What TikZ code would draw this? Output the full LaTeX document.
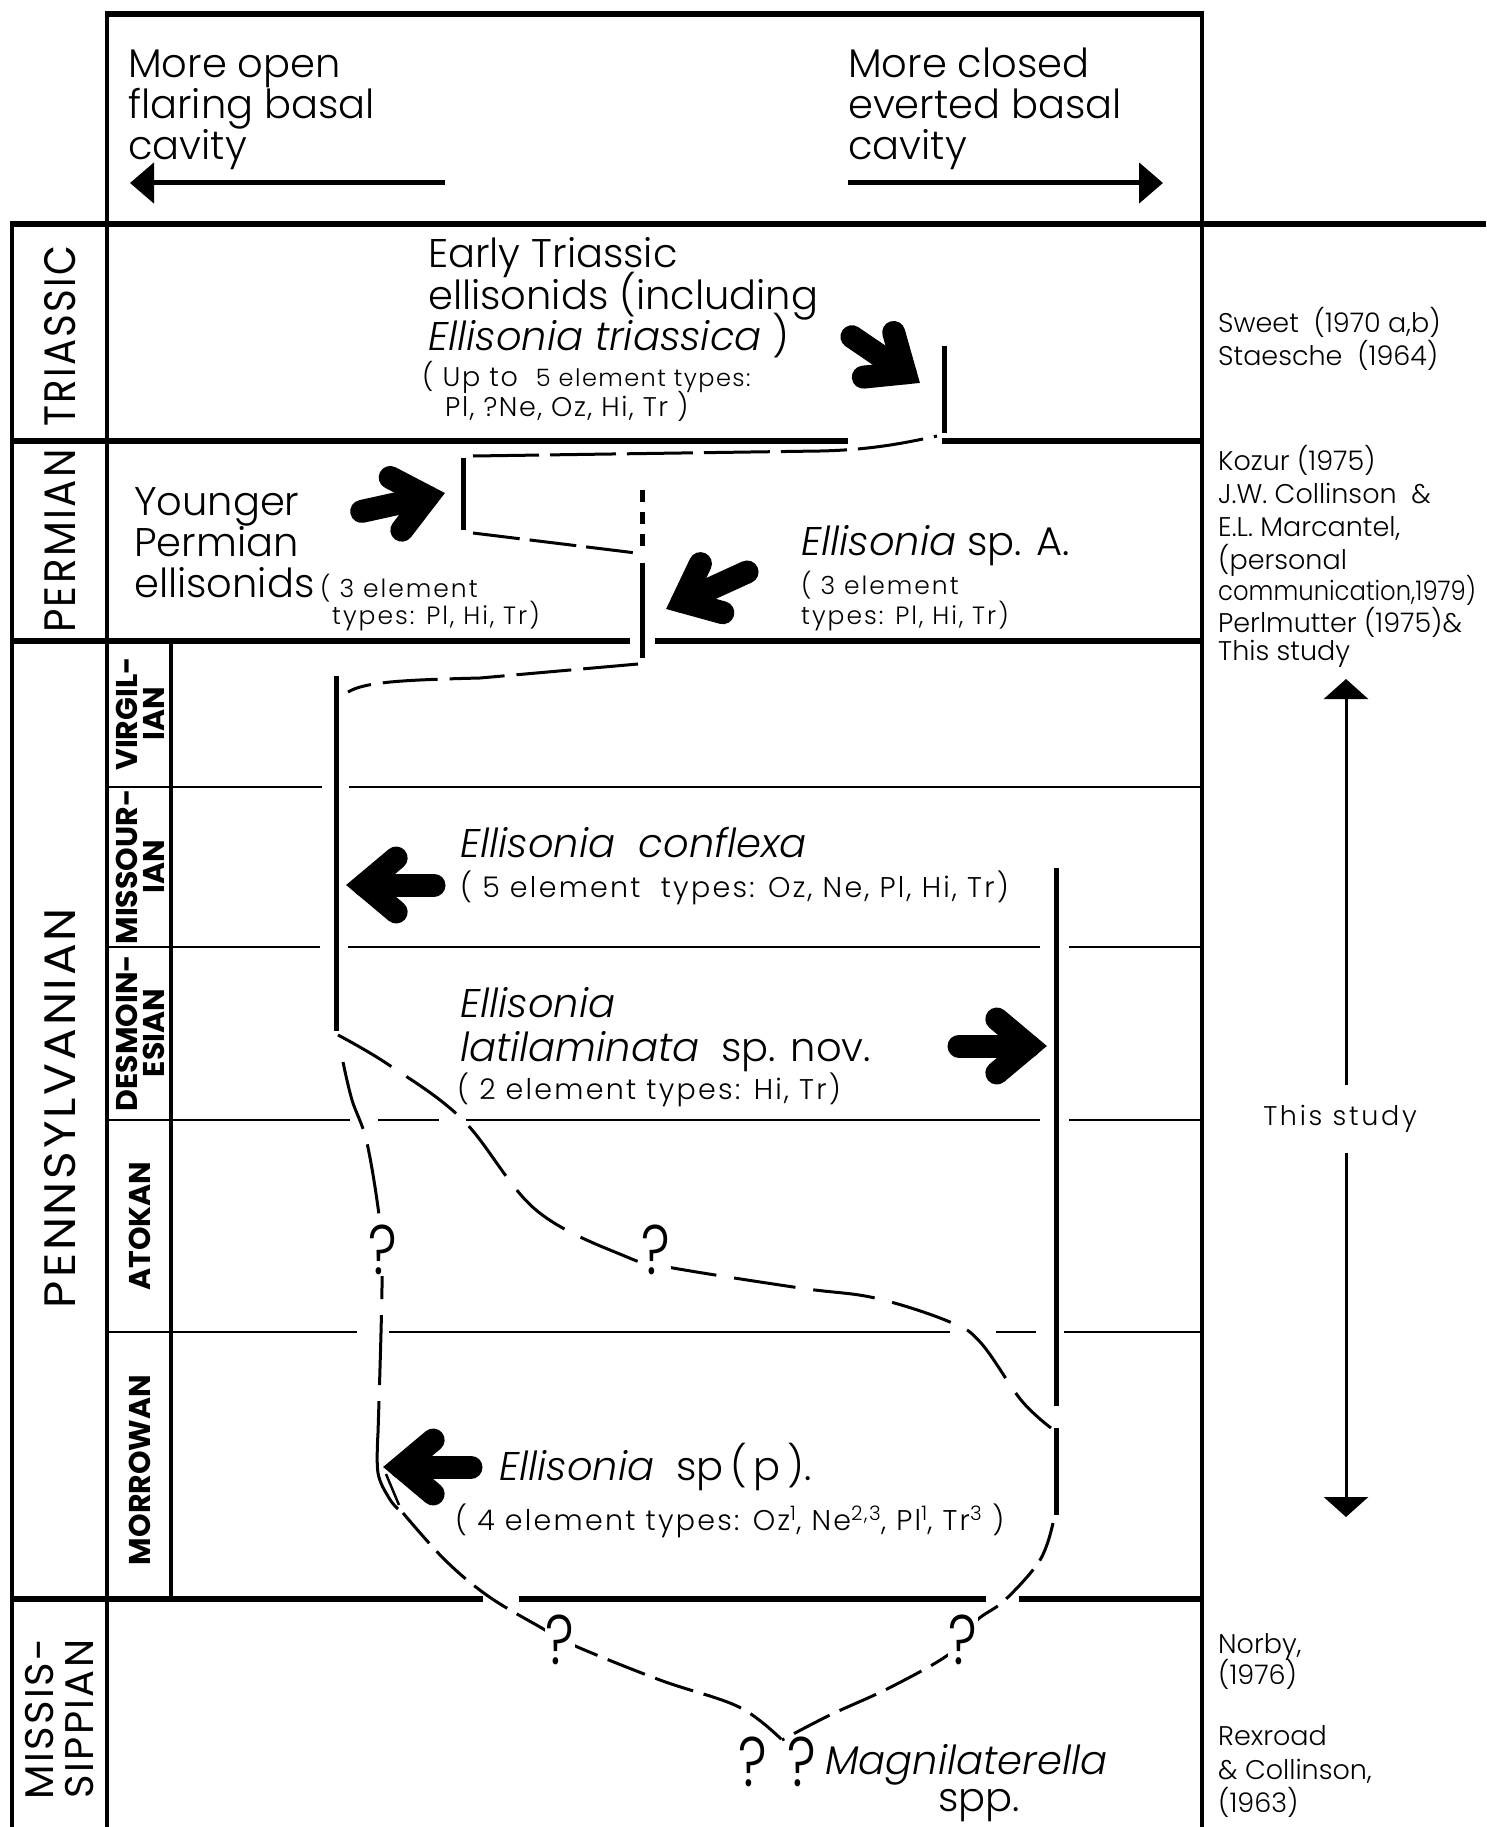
\documentclass[tikz,border=0pt]{standalone}
\usepackage{fontspec}
\setmainfont{Poppins}[UprightFont=* Light, ItalicFont=* Light Italic, BoldFont=* Bold]
\newfontfamily\regfont{Poppins}
\usetikzlibrary{calc,arrows.meta}
\newcommand\fatarrow[2]{%
  \coordinate (fa-v) at ($(#2)!18pt!(#1)$);
  \coordinate (fa-t) at ($(#1)!12pt!(#2)$);
  \draw[line width=23pt, line cap=round, line join=miter, miter limit=10]
    ($(fa-v)!42pt!40:(#1)$) -- (fa-v) -- ($(fa-v)!42pt!-40:(#1)$);
  \draw[line width=23pt, line cap=round] (fa-v) -- (fa-t);
}
\begin{document}
\begin{tikzpicture}[x=1pt,y=-1pt,
  frame/.style={line width=4pt},
  thickb/.style={line width=6pt},
  thinb/.style={line width=2.6pt},
  rangebar/.style={line width=5pt},
  lineage/.style={line width=3pt, dash pattern=on 60pt off 12pt},
  shortdash/.style={line width=3pt, dash pattern=on 40pt off 11pt},
  txt/.style={anchor=base west, inner sep=0pt},
  big/.style={font=\fontsize{40pt}{41pt}\selectfont},
  mid/.style={font=\fontsize{27pt}{30pt}\selectfont\addfontfeatures{LetterSpace=6}},
  small/.style={font=\fontsize{25pt}{30pt}\selectfont\addfontfeatures{LetterSpace=8}},
  smallb/.style={font=\fontsize{28.5pt}{30pt}\selectfont\addfontfeatures{LetterSpace=8}},
  refs/.style={font=\fontsize{27pt}{33pt}\selectfont},
  period/.style={font=\regfont\fontsize{44pt}{44pt}\selectfont\addfontfeatures{LetterSpace=6}, rotate=90, inner sep=0pt},
  stage/.style={font=\bfseries\fontsize{30pt}{27pt}\selectfont, rotate=90, align=center, inner sep=0pt},
  qm/.style={font=\fontsize{70pt}{70pt}\selectfont, fill=white, inner sep=1pt},
  qmb/.style={font=\fontsize{70pt}{70pt}\selectfont, inner sep=1pt}
]
\useasboundingbox (0,0) rectangle (1486,1827);
\fill[white] (0,0) rectangle (1486,1827);

% ---------- frame ----------
\draw[frame] (107,14) -- (107,1827);
\draw[frame] (1202,14) -- (1202,1827);
\draw[frame] (12,224) -- (12,1827);
\draw[frame] (171,641) -- (171,1599);
\draw[thickb] (105,14) -- (1204,14);
\draw[thickb] (10,224) -- (1486,224);
% Triassic / Permian
\draw[thickb] (10,441) -- (848,441);
\draw[thickb] (942,441) -- (1204,441);
% Permian / Pennsylvanian
\draw[thickb] (10,641) -- (630,641);
\draw[thickb] (655,641) -- (1204,641);
% stages
\draw[thinb] (107,787) -- (322,787);  \draw[thinb] (349,787) -- (1202,787);
\draw[thinb] (107,947) -- (320,947);  \draw[thinb] (348,947) -- (1040,947);  \draw[thinb] (1069,947) -- (1202,947);
\draw[thinb] (107,1120) -- (350,1120); \draw[thinb] (378,1120) -- (439,1120); \draw[thinb] (466,1120) -- (1040,1120); \draw[thinb] (1069,1120) -- (1202,1120);
\draw[thinb] (107,1332) -- (357,1332); \draw[thinb] (389,1332) -- (950,1332); \draw[thinb] (996,1332) -- (1036,1332); \draw[thinb] (1064,1332) -- (1202,1332);
% Pennsylvanian / Mississippian
\draw[thickb] (10,1599) -- (483,1599);
\draw[thickb] (519,1599) -- (986,1599);
\draw[thickb] (1019,1599) -- (1204,1599);

% ---------- range bars ----------
\coordinate (triTop) at (944,346);
\coordinate (triBot) at (944,433);
\coordinate (ypTop) at (463,458);
\coordinate (ypBot) at (463,530);
\coordinate (spaDotTop) at (642,490);
\coordinate (spaDotBot) at (642,552);
\coordinate (spaTop) at (642,563);
\coordinate (spaBot) at (642,658);
\coordinate (cfTop) at (336,676);
\coordinate (cfBot) at (336,1031);
\coordinate (llTop) at (1056,868);
\coordinate (llBot) at (1056,1406);
\coordinate (sppTop) at (1056,1428);
\coordinate (sppBot) at (1056,1515);
\coordinate (root) at (782,1740);

\draw[rangebar] (triTop) -- (triBot);
\draw[rangebar] (ypTop) -- (ypBot);
\draw[line width=5pt, dash pattern=on 12pt off 10pt] (spaDotTop) -- (spaDotBot);
\draw[rangebar] (spaTop) -- (spaBot);
\draw[rangebar] (cfTop) -- (cfBot);
\draw[rangebar] (llTop) -- (llBot);
\draw[rangebar] (sppTop) -- (sppBot);

% ---------- lineage curves ----------
\draw[lineage, dash pattern=on 66pt off 11pt] ($(ypTop)+(10,-2)$) -- (820,451) .. controls (870,450) and (905,443) .. ($(triBot)+(-7,3)$);
\draw[lineage, dash pattern=on 47pt off 10pt] ($(ypBot)+(10,3)$) -- ($(spaDotBot)+(-6,1)$);
\draw[lineage, dash pattern=on 55pt off 12pt] ($(spaBot)+(-4,6)$) -- (480,678) .. controls (400,680) and (365,682) .. ($(cfTop)+(12,16)$);
\draw[lineage, dash pattern=on 62pt off 18pt] plot[smooth, tension=0.6] coordinates
  {($(cfBot)+(2,4)$) (389,1065) (463,1120) (536,1210) (627,1257) (673,1268) (800,1288) (875,1298) (950,1322) (981,1343) (1021,1400) ($(sppTop)+(-5,0)$)};
\draw[lineage, dash pattern=on 70pt off 16pt] plot[smooth, tension=0.6] coordinates
  {(343,1062) (352,1100) (367,1143) (380,1223) (382,1273) (381,1333) (378,1433)};
\draw[line width=3pt] plot[smooth, tension=0.6] coordinates {(378,1433) (378,1473) (389,1498) (398,1509)};
\draw[line width=2.5pt] (386,1474) -- (399,1505);
\draw[shortdash] plot[smooth, tension=0.6] coordinates
  {(403,1513) (445,1560) (488,1596) (540,1627) (573,1645) (660,1680) (739,1707) (root)};
\draw[shortdash] plot[smooth, tension=0.6] coordinates
  {($(sppBot)+(-3,8)$) (1040,1560) (1005,1600) (976,1621) (952,1652) (891,1687) (830,1715) (root)};

% question marks
\node[qm] (q1) at (383,1250) {\scalebox{0.8}[1]{?}};
\node[qm] (q2) at (656,1250) {\scalebox{0.8}[1]{?}};
\node[qm] (q3) at (560,1640) {\scalebox{0.8}[1]{?}};
\node[qm] (q4) at (963,1640) {\scalebox{0.8}[1]{?}};
\node[qmb] (q5) at (753,1762) {\scalebox{0.8}[1]{?}};
\node[qmb] (q6) at (802,1762) {\scalebox{0.8}[1]{?}};

% ---------- fat arrows ----------
\coordinate (a1t) at (842,330); \coordinate (a1h) at (920,383);
\coordinate (a2t) at (350,514); \coordinate (a2h) at (445,493);
\coordinate (a3t) at (758,567); \coordinate (a3h) at (666,609);
\coordinate (a4t) at (446,885); \coordinate (a4h) at (346,885);
\coordinate (a5t) at (947,1046); \coordinate (a5h) at (1047,1046);
\coordinate (a6t) at (483,1467); \coordinate (a6h) at (383,1467);
\fatarrow{a1t}{a1h}
\fatarrow{a2t}{a2h}
\fatarrow{a3t}{a3h}
\fatarrow{a4t}{a4h}
\fatarrow{a5t}{a5h}
\fatarrow{a6t}{a6h}

% ---------- header ----------
\node[txt,big] (h1) at (128,78) {More open};
\node[txt,big] (h2) at (128,119) {flaring basal};
\node[txt,big] (h3) at (128,160) {cavity};
\node[txt,big] (h4) at (848,78) {More closed};
\node[txt,big] (h5) at (848,119) {everted basal};
\node[txt,big] (h6) at (848,160) {cavity};
\coordinate (hl1) at (445,183); \coordinate (hl2) at (130,183);
\coordinate (hr1) at (848,183); \coordinate (hr2) at (1163,183);
\draw[line width=5pt, -{Triangle[length=24pt,width=40pt]}] (hl1) -- (hl2);
\draw[line width=5pt, -{Triangle[length=24pt,width=40pt]}] (hr1) -- (hr2);

% ---------- period and stage labels ----------
\node[period] (pTri) at (60,336) {\scalebox{0.88}[1]{TRIASSIC}};
\node[period] (pPerm) at (60,541) {\scalebox{0.92}[1]{PERMIAN}};
\node[period] (pPenn) at (60,1108) {\scalebox{1.07}[1]{PENNSYLVANIAN}};
\node[period, align=center, font=\regfont\fontsize{40pt}{40pt}\selectfont\addfontfeatures{LetterSpace=6}] (pMiss) at (60,1719) {MISSIS-\\SIPPIAN};
\node[stage] (sV) at (140,714) {VIRGIL-\\IAN};
\node[stage] (sM) at (140,867) {MISSOUR-\\IAN};
\node[stage] (sD) at (140,1033) {DESMOIN-\\ESIAN};
\node[stage] (sA) at (140,1226) {ATOKAN};
\node[stage] (sMo) at (140,1470) {MORROWAN};

% ---------- taxon labels ----------
\node[txt,big] (t1) at (428,268) {Early Triassic};
\node[txt,big] (t2) at (428,309) {ellisonids (including};
\node[txt,big] (t3) at (428,350) {\textit{Ellisonia triassica} )};
\node[txt,mid] (t4) at (422,386) {( Up to\ \ {\fontsize{24pt}{30pt}\selectfont 5 element types:}};
\node[txt,mid] (t5) at (445,416) {Pl, ?Ne, Oz, Hi, Tr )};

\node[txt,big] (y1) at (134,515) {Younger};
\node[txt,big] (y2) at (134,556) {Permian};
\node[txt,big] (y3) at (134,597) {ellisonids};
\node[txt,small] (y4) at (320,597) {( 3 element};
\node[txt,small] (y5) at (332,624) {types: Pl, Hi, Tr)};

\node[txt,big] (s1) at (801,555) {\textit{Ellisonia} sp. A.};
\node[txt,small] (s2) at (801,594) {( 3 element};
\node[txt,small] (s3) at (801,624) {types: Pl, Hi, Tr)};

\node[txt,big] (c1) at (460,857) {\textit{Ellisonia\ \ conflexa}};
\node[txt,smallb] (c2) at (460,897) {( 5 element\ \ types: Oz, Ne, Pl, Hi, Tr)};

\node[txt,big] (l1) at (460,1017) {\textit{Ellisonia}};
\node[txt,big] (l2) at (460,1061) {\textit{latilaminata}\ \ sp. nov.};
\node[txt,smallb] (l3) at (457,1099) {( 2 element types: Hi, Tr)};

\node[txt,big] (p1) at (499,1480) {\textit{Ellisonia}\ \ sp\,(\,p\,).};
\node[txt,smallb] (p2) at (455,1530) {( 4 element types: Oz\textsuperscript{1}, Ne\textsuperscript{2,3}, Pl\textsuperscript{1}, Tr\textsuperscript{3} )};

\node[txt,big] (m1) at (825,1774) {\textit{Magnilaterella}};
\node[txt,big] (m2) at (938,1811) {spp.};

% ---------- references ----------
\node[txt,refs] (r1) at (1218,332) {Sweet\ \ (1970 a,b)};
\node[txt,refs] (r2) at (1218,365) {Staesche\ \ (1964)};
\node[txt,refs] (r3) at (1218,470) {Kozur (1975)};
\node[txt,refs] (r4) at (1218,503) {J.W. Collinson\ \ \&};
\node[txt,refs] (r5) at (1218,536) {E.L. Marcantel,};
\node[txt,refs] (r6) at (1218,569) {(personal};
\node[txt,refs] (r7) at (1218,600) {\scalebox{0.9}[1]{communication,1979)}};
\node[txt,refs] (r8) at (1218,632) {Perlmutter (1975)\&};
\node[txt,refs] (r9) at (1218,660) {This study};
\node[txt,refs] (r10) at (1218,1653) {Norby,};
\node[txt,refs] (r11) at (1218,1684) {(1976)};
\node[txt,refs] (r12) at (1218,1745) {Rexroad};
\node[txt,refs] (r13) at (1218,1779) {\& Collinson,};
\node[txt,refs] (r14) at (1218,1812) {(1963)};

% This study range
\node[font=\fontsize{27pt}{30pt}\selectfont\addfontfeatures{LetterSpace=10}, inner sep=0pt] (ts) at (1340,1119) {This study};
\coordinate (tsTop) at (1346,679);
\coordinate (tsBot) at (1346,1517);
\draw[line width=3pt, -{Triangle[length=20pt,width=44pt]}] (ts.north -| tsTop) ++(0,-20) -- (tsTop);
\draw[line width=3pt, -{Triangle[length=20pt,width=44pt]}] (ts.south -| tsBot) ++(0,20) -- (tsBot);
\end{tikzpicture}
\end{document}
